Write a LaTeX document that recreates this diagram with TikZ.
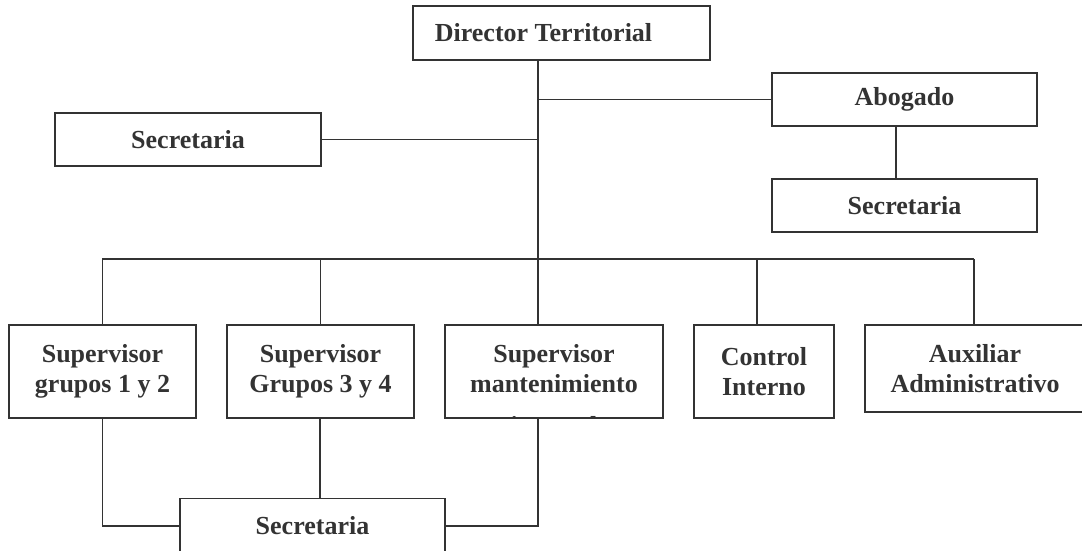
\documentclass[tikz,border=0pt]{standalone}
\usepackage{fontspec}
\setmainfont{Liberation Serif}
\definecolor{ink}{HTML}{333333}
\begin{document}
\begin{tikzpicture}[x=1pt,y=-1pt,
  box/.style={draw=ink, line width=1.4pt, rectangle, inner sep=0pt, fill=white,
    text=ink, font=\bfseries\fontsize{26}{30}\selectfont, align=center},
  txt/.style={inner sep=0pt, text=ink, font=\bfseries\fontsize{26}{30}\selectfont, align=center},
  link/.style={draw=ink, line width=1.4pt}]
\useasboundingbox (0,0) rectangle (1082,551);
\fill[white] (0,0) rectangle (1082,551);
\coordinate (trunk) at (538,259);
\coordinate (busL) at (102,259);
\coordinate (busR) at (974,259);
% boxes
\node[box, minimum width=297pt, minimum height=54pt] (dir) at (561.5,33) {Director Territorial\hspace*{36pt}};
\node[box, minimum width=265pt, minimum height=53pt] (abog) at (904.5,99.5) {Abogado};
\node[box, minimum width=265pt, minimum height=53pt] (secR) at (904.5,205.5) {Secretaria};
\node[box, minimum width=266pt, minimum height=53pt] (secL) at (188,139.5) {Secretaria};
\node[box, minimum width=187pt, minimum height=93pt] (b1) at (102.5,371.5) {Supervisor\\grupos 1 y 2};
\node[box, minimum width=187pt, minimum height=93pt] (b2) at (320.5,371.5) {Supervisor\\Grupos 3 y 4};
\node[box, minimum width=218pt, minimum height=93pt] (b3) at (554,371.5) {};
\node[box, minimum width=140pt, minimum height=93pt] (b4) at (764,371.5) {Control\\Interno};
\node[box, minimum width=220pt, minimum height=87pt] (b5) at (975,368.5) {Auxiliar\\Administrativo};
\node[box, minimum width=265pt, minimum height=55pt] (secB) at (312.5,526) {Secretaria};
\begin{scope}
  \clip (b3.south west) rectangle (b3.north east);
  \node[txt, anchor=north] (b3t) at (554,344) {Supervisor\\mantenimiento\\[12pt]integral};
\end{scope}
\draw[draw=ink, line width=1.4pt] (b3.south west) rectangle (b3.north east);
% connectors
\draw[link] (dir.south -| trunk) -- (trunk);
\draw[link] (abog.west) -- (abog.west -| trunk);
\draw[link] (secL.east) -- (secL.east -| trunk);
\draw[link] ([xshift=-8.5pt]abog.south) -- ([xshift=-8.5pt]secR.north);
\draw[link] (busL) -- (busR);
\draw[link] (b1.north) -- (b1.north |- busL);
\draw[link] (b2.north) -- (b2.north |- busL);
\draw[link] ([xshift=-16pt]b3.north) -- ([xshift=-16pt]b3.north |- busL);
\draw[link] ([xshift=-7pt]b4.north) -- ([xshift=-7pt]b4.north |- busL);
\draw[link] ([xshift=-1pt]b5.north) -- ([xshift=-1pt]b5.north |- busL);
\draw[link] (b1.south) -- (b1.south |- secB.west) -- (secB.west);
\draw[link] ([xshift=-0.5pt]b2.south) -- ([xshift=-0.5pt]b2.south |- secB.north);
\draw[link] ([xshift=-16pt]b3.south) -- ([xshift=-16pt]b3.south |- secB.east) -- (secB.east);
\end{tikzpicture}
\end{document}
